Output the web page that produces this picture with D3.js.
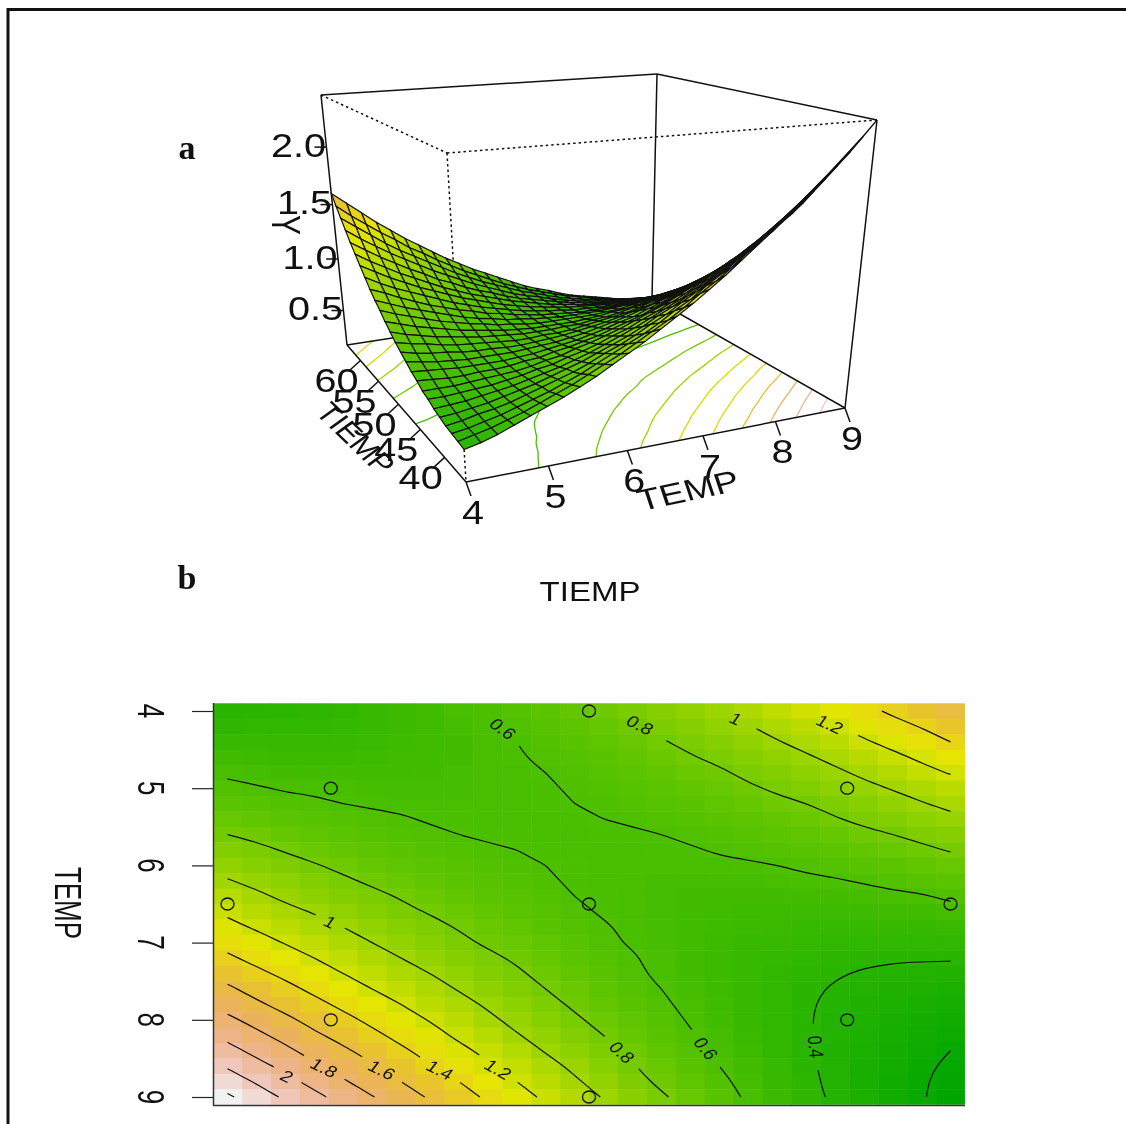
<!DOCTYPE html>
<html>
<head>
<meta charset="utf-8">
<script src="https://cdn.jsdelivr.net/npm/d3@7"></script>
<style>
    html, body { margin: 0; padding: 0; background: #fff; }
    svg { display: block; filter: blur(0.4px); }
    text { font-family: "Liberation Sans", Arial, sans-serif; fill: #111; }
</style>
</head>
<body>
<div id="chart"></div>
<script>
// TEMP on the rows, TIEMP on the columns
var tempGrid = [4, 4.2, 4.4, 4.6, 4.8, 5, 5.2, 5.4, 5.6, 5.8, 6, 6.2, 6.4, 6.6, 6.8, 7, 7.2, 7.4, 7.6, 7.8, 8, 8.2, 8.4, 8.6, 8.8, 9];
var tiempGrid = [36, 37.12, 38.24, 39.36, 40.48, 41.6, 42.72, 43.84, 44.96, 46.08, 47.2, 48.32, 49.44, 50.56, 51.68, 52.8, 53.92, 55.04, 56.16, 57.28, 58.4, 59.52, 60.64, 61.76, 62.88, 64];

// Y per cell, estimated from where the contours cross the plot and the cell colours
var yValues = [
    [.41, .42, .43, .44, .46, .48, .51, .53, .57, .60, .64, .68, .72, .77, .82, .88, .93, .99, 1.06, 1.13, 1.20, 1.27, 1.35, 1.43, 1.51, 1.60],
    [.44, .45, .45, .46, .47, .49, .51, .53, .56, .59, .62, .65, .69, .73, .78, .83, .88, .94, .99, 1.06, 1.12, 1.19, 1.26, 1.34, 1.41, 1.50],
    [.48, .48, .48, .49, .49, .50, .52, .53, .55, .58, .60, .63, .67, .70, .74, .79, .83, .88, .93, .99, 1.05, 1.11, 1.18, 1.25, 1.32, 1.40],
    [.53, .52, .51, .51, .51, .52, .53, .54, .55, .57, .59, .62, .64, .67, .71, .75, .79, .83, .88, .93, .98, 1.04, 1.10, 1.16, 1.23, 1.30],
    [.58, .56, .55, .54, .54, .54, .54, .55, .56, .57, .58, .60, .62, .65, .68, .71, .75, .78, .83, .87, .92, .97, 1.03, 1.08, 1.15, 1.21],
    [.63, .61, .59, .58, .57, .56, .56, .56, .56, .57, .58, .59, .61, .63, .65, .68, .71, .74, .78, .82, .86, .91, .96, 1.01, 1.06, 1.12],
    [.68, .66, .63, .62, .60, .59, .58, .57, .57, .57, .58, .59, .60, .61, .63, .65, .67, .70, .73, .77, .80, .84, .89, .94, .99, 1.04],
    [.74, .71, .68, .66, .64, .62, .61, .59, .59, .58, .58, .58, .59, .60, .61, .63, .64, .67, .69, .72, .75, .79, .83, .87, .91, .96],
    [.80, .77, .73, .70, .68, .65, .63, .62, .60, .59, .59, .58, .58, .59, .59, .60, .62, .63, .65, .68, .70, .73, .77, .80, .84, .88],
    [.87, .83, .79, .75, .72, .69, .67, .64, .63, .61, .60, .59, .58, .58, .58, .59, .59, .61, .62, .64, .66, .68, .71, .74, .77, .81],
    [.94, .89, .85, .81, .77, .73, .70, .68, .65, .63, .61, .60, .59, .58, .57, .57, .58, .58, .59, .60, .62, .64, .66, .68, .71, .74],
    [1.01, .96, .91, .86, .82, .78, .74, .71, .68, .65, .63, .61, .59, .58, .57, .56, .56, .56, .56, .57, .58, .59, .61, .63, .65, .68],
    [1.09, 1.03, .97, .92, .87, .83, .79, .75, .71, .68, .65, .63, .60, .59, .57, .56, .55, .54, .54, .54, .55, .55, .56, .58, .59, .62],
    [1.17, 1.10, 1.04, .99, .93, .88, .83, .79, .75, .71, .68, .65, .62, .59, .57, .56, .54, .53, .52, .52, .52, .52, .52, .53, .54, .56],
    [1.25, 1.18, 1.12, 1.05, 1.00, .94, .89, .84, .79, .75, .71, .67, .64, .61, .58, .56, .54, .52, .51, .50, .49, .49, .49, .49, .49, .50],
    [1.34, 1.27, 1.19, 1.13, 1.06, 1.00, .94, .89, .83, .78, .74, .70, .66, .62, .59, .56, .54, .51, .49, .48, .47, .46, .45, .45, .45, .45],
    [1.43, 1.35, 1.28, 1.20, 1.13, 1.06, 1.00, .94, .88, .83, .78, .73, .68, .64, .61, .57, .54, .51, .49, .47, .45, .43, .42, .41, .41, .41],
    [1.53, 1.44, 1.36, 1.28, 1.20, 1.13, 1.06, 1.00, .93, .87, .82, .76, .71, .67, .62, .58, .55, .51, .48, .46, .43, .41, .39, .38, .37, .36],
    [1.63, 1.54, 1.45, 1.36, 1.28, 1.20, 1.13, 1.06, .99, .92, .86, .80, .75, .69, .64, .60, .56, .52, .48, .45, .42, .39, .37, .35, .34, .32],
    [1.73, 1.63, 1.54, 1.45, 1.36, 1.28, 1.20, 1.12, 1.05, .98, .91, .84, .78, .72, .67, .62, .57, .53, .49, .45, .41, .38, .35, .33, .31, .29],
    [1.84, 1.74, 1.64, 1.54, 1.45, 1.36, 1.27, 1.19, 1.11, 1.03, .96, .89, .82, .76, .70, .64, .59, .54, .49, .45, .41, .37, .34, .31, .28, .26],
    [1.95, 1.84, 1.74, 1.63, 1.54, 1.44, 1.35, 1.26, 1.17, 1.09, 1.01, .94, .87, .80, .73, .67, .61, .56, .50, .45, .41, .37, .33, .29, .26, .23],
    [2.06, 1.95, 1.84, 1.73, 1.63, 1.53, 1.43, 1.34, 1.24, 1.16, 1.07, .99, .91, .84, .77, .70, .64, .58, .52, .46, .41, .36, .32, .28, .24, .20],
    [2.18, 2.06, 1.95, 1.83, 1.72, 1.62, 1.51, 1.41, 1.32, 1.22, 1.14, 1.05, .97, .89, .81, .74, .67, .60, .54, .48, .42, .37, .31, .27, .22, .18],
    [2.30, 2.18, 2.06, 1.94, 1.82, 1.71, 1.60, 1.50, 1.40, 1.30, 1.20, 1.11, 1.02, .94, .85, .77, .70, .63, .56, .49, .43, .37, .31, .26, .21, .17],
    [2.43, 2.30, 2.17, 2.05, 1.93, 1.81, 1.69, 1.58, 1.48, 1.37, 1.27, 1.17, 1.08, .99, .90, .82, .74, .66, .58, .51, .44, .38, .32, .26, .21, .15]
];

var contourLevels = [.2, .4, .6, .8, 1, 1.2, 1.4, 1.6, 1.8, 2, 2.2, 2.4];

var labelText = ["0.6", "0.8", "1", "1.2", "1", "1.2", "1.4", "1.6", "1.8", "2", "0.8", "0.6", "0.4"];
var labelTiemp = [46.67, 51.98, 55.69, 59.33, 39.97, 46.48, 44.23, 41.98, 39.74, 38.3, 51.28, 54.53, 58.79];
var labelTemp = [4.23, 4.18, 4.1, 4.17, 6.73, 8.64, 8.65, 8.65, 8.62, 8.73, 8.42, 8.37, 8.35];
var labelAngle = [36, 26, 24, 24, 24, 30, 26, 26, 26, 26, 42, 50, 84];

var designTiemp = [50, 40, 60, 36, 50, 64, 40, 60, 50];
var designTemp = [4, 5, 5, 6.5, 6.5, 6.5, 8, 8, 9];

var tempTicks = [4, 5, 6, 7, 8, 9];
var tiempTicks = [40, 45, 50, 55, 60];
var yTicks = [0.5, 1, 1.5, 2];
var terrainLow = ["#00A600", "#2DB600", "#63C600", "#A0D600", "#E6E600"];
var terrainHigh = ["#E8C32E", "#EBB25E", "#EDB48E", "#F0C9C0", "#F2F2F2"];

var width = 1126, height = 1124;

var svg = d3.select("#chart").append("svg")
    .attr("width", width)
    .attr("height", height);

var yMin = d3.min(yValues.flat()), yMax = d3.max(yValues.flat());
var yMid = (yMin + yMax) / 2;

// yellow sits at the middle of the range, as in terrain.colors
var color = d3.scaleLinear()
    .domain(terrainLow.map(function (c, i) { return yMin + (yMid - yMin) * i / 4; })
        .concat(terrainHigh.map(function (c, i) { return yMid + (yMax - yMid) * (i + 1) / 5; })))
    .range(terrainLow.concat(terrainHigh));

// the picture is wider than it is tall, so the text gets a horizontal stretch;
// angle is the one seen on screen
function label(g, x, y, angle, size, stretch, str) {
    var a = Math.atan2(Math.sin(angle * Math.PI / 180) * stretch, Math.cos(angle * Math.PI / 180)) * 180 / Math.PI;
    return g.append("text")
        .attr("transform", "translate(" + x + "," + y + ") scale(" + stretch + ",1) rotate(" + a + ")")
        .attr("text-anchor", "middle")
        .attr("dy", ".36em")
        .style("font-size", size + "px")
        .text(str);
}

// figure frame, cut off by the right and bottom of the page
svg.append("path")
    .attr("d", "M8,1124V9.5H1126")
    .attr("fill", "none")
    .attr("stroke", "#111")
    .attr("stroke-width", 3);

svg.append("text")
    .attr("x", 187).attr("y", 159)
    .attr("text-anchor", "middle")
    .style("font-family", "'Liberation Serif', serif")
    .style("font-weight", "bold")
    .style("font-size", "34px")
    .text("a");
svg.append("text")
    .attr("x", 187).attr("y", 589)
    .attr("text-anchor", "middle")
    .style("font-family", "'Liberation Serif', serif")
    .style("font-weight", "bold")
    .style("font-size", "34px")
    .text("b");

// contour lines, without the parts that d3 adds along the edge of the grid
var nRows = tempGrid.length, nCols = tiempGrid.length;
var colToTiemp = d3.scaleLinear().domain([0, nCols - 1]).range([tiempGrid[0], tiempGrid[nCols - 1]]);
var rowToTemp = d3.scaleLinear().domain([0, nRows - 1]).range([tempGrid[0], tempGrid[nRows - 1]]);

var contourLines = d3.contours()
    .size([nCols, nRows])
    .thresholds(contourLevels)(yValues.flat())
    .map(function (c) {
        var lines = [];
        c.coordinates.forEach(function (polygon) {
            polygon.forEach(function (ring) {
                var cur = [];
                ring.forEach(function (p) {
                    if (p[0] <= 0 || p[0] >= nCols || p[1] <= 0 || p[1] >= nRows) {
                        if (cur.length > 1) lines.push(cur);
                        cur = [];
                    } else {
                        cur.push([colToTiemp(p[0] - 0.5), rowToTemp(p[1] - 0.5)]);
                    }
                });
                if (cur.length > 1) lines.push(cur);
            });
        });
        return { level: c.value, lines: lines };
    });

// --------------------------
//
// a: perspective plot
//
// --------------------------
var tempNorm = d3.scaleLinear().domain([tempGrid[0], tempGrid[nRows - 1]]).range([0, 1]);
var tiempNorm = d3.scaleLinear().domain([tiempGrid[0], tiempGrid[nCols - 1]]).range([0, 1]);
var yNorm = d3.scaleLinear().domain([yMin, yMax]).range([0, 1]);

var origin = [466, 482], xEnd = [845, 408], yEnd = [347, 345], zEnd = [447, 153];
var wx = 1.112, wy = 1.313, wz = 0.85;

function rawProject(x, y, z) {
    var w = 1 + x * (wx - 1) + y * (wy - 1) + z * (wz - 1);
    return [0, 1].map(function (k) {
        return (origin[k] + x * (wx * xEnd[k] - origin[k]) + y * (wy * yEnd[k] - origin[k]) + z * (wz * zEnd[k] - origin[k])) / w;
    }).concat(w);
}

var cornerFix = [
    [1, 1, 0, 652, 298],
    [0, 1, 1, 321, 95],
    [1, 0, 1, 877, 120],
    [1, 1, 1, 657, 74]
].map(function (c) {
    var p = rawProject(c[0], c[1], c[2]);
    return [c[0], c[1], c[2], c[3] - p[0], c[4] - p[1]];
});

function project(x, y, z) {
    var p = rawProject(x, y, z);
    cornerFix.forEach(function (c) {
        var b = (c[0] ? x : 1 - x) * (c[1] ? y : 1 - y) * (c[2] ? z : 1 - z);
        p[0] += b * c[3];
        p[1] += b * c[4];
    });
    return p;
}

var persp = svg.append("g");
var line = d3.line();
var smooth = d3.line().curve(d3.curveBasis);

// floor contours
contourLines.forEach(function (c) {
    c.lines.forEach(function (l) {
        persp.append("path")
            .attr("d", smooth(l.map(function (p) { return project(tempNorm(p[1]), tiempNorm(p[0]), 0).slice(0, 2); })))
            .attr("fill", "none")
            .attr("stroke", color(c.level))
            .attr("stroke-width", 1.3);
    });
});

// box
var boxSolid = [
    [[0, 1, 1], [1, 1, 1]], [[1, 1, 1], [1, 0, 1]], [[1, 1, 1], [1, 1, 0]],
    [[0, 1, 1], [0, 1, 0]], [[1, 0, 1], [1, 0, 0]],
    [[0, 1, 0], [1, 1, 0]], [[1, 1, 0], [1, 0, 0]],
    [[0, 1, 0], [0, 0, 0]], [[0, 0, 0], [1, 0, 0]]
];
var boxDotted = [
    [[0, 1, 1], [0, 0, 1]], [[0, 0, 1], [1, 0, 1]], [[0, 0, 1], [0, 0, 0]]
];
function boxEdge(e, dash) {
    persp.append("path")
        .attr("d", line(e.map(function (v) { return project(v[0], v[1], v[2]).slice(0, 2); })))
        .attr("stroke", "#111")
        .attr("stroke-width", 1.5)
        .attr("stroke-dasharray", dash);
}
boxSolid.forEach(function (e) { boxEdge(e, null); });
boxDotted.forEach(function (e) { boxEdge(e, "2.5,3"); });

// surface, far facets first
var facets = [];
d3.range(nRows - 1).forEach(function (i) {
    d3.range(nCols - 1).forEach(function (j) {
        var cells = [[i, j], [i + 1, j], [i + 1, j + 1], [i, j + 1]];
        var pts = cells.map(function (c) {
            return project(tempNorm(tempGrid[c[0]]), tiempNorm(tiempGrid[c[1]]), yNorm(yValues[c[0]][c[1]]));
        });
        facets.push({
            pts: pts,
            depth: d3.mean(pts, function (p) { return p[2]; }),
            value: d3.mean(cells, function (c) { return yValues[c[0]][c[1]]; })
        });
    });
});
facets.sort(function (a, b) { return d3.descending(a.depth, b.depth); });

persp.append("g").selectAll("path")
    .data(facets)
    .enter().append("path")
    .attr("d", function (d) { return line(d.pts.map(function (p) { return p.slice(0, 2); })) + "Z"; })
    .attr("fill", function (d) { return color(d.value); })
    .attr("stroke", "#111")
    .attr("stroke-width", 1.2);

// ticks and their labels
function tick(p, dx, dy) {
    persp.append("line")
        .attr("x1", p[0]).attr("y1", p[1])
        .attr("x2", p[0] + dx).attr("y2", p[1] + dy)
        .attr("stroke", "#111")
        .attr("stroke-width", 1.5);
}
tempTicks.forEach(function (t) {
    var p = project(tempNorm(t), 0, 0);
    tick(p, 5, 14);
    label(persp, p[0] + 7, p[1] + 30, 0, 33, 1.2, t);
});
tiempTicks.forEach(function (t) {
    var p = project(0, tiempNorm(t), 0);
    tick(p, -12, 11);
    label(persp, p[0] - 24, p[1] + 20, 0, 33, 1.2, t);
});
yTicks.forEach(function (t) {
    var p = project(0, 1, yNorm(t));
    tick(p, -12, 0);
    label(persp, p[0] - 28, p[1] - 2, 0, 33, 1.2, d3.format(".1f")(t));
});
label(persp, 688, 490, -12, 30, 1.25, "TEMP");
label(persp, 356, 438, 44, 27.5, 1.2, "TIEMP");
label(persp, 287, 225, 90, 30, 1.35, "Y");

// --------------------------
//
// b: image with contours
//
// --------------------------
var xScale = d3.scaleLinear().domain([tiempGrid[0], tiempGrid[nCols - 1]]).range([227.5, 950.5]);
var yScale = d3.scaleLinear().domain([tempGrid[0], tempGrid[nRows - 1]]).range([711, 1097]);
var cellW = xScale(tiempGrid[1]) - xScale(tiempGrid[0]);
var cellH = yScale(tempGrid[1]) - yScale(tempGrid[0]);

var image = svg.append("g");
yValues.forEach(function (row, i) {
    image.append("g").selectAll("rect")
        .data(row)
        .enter().append("rect")
        .attr("x", function (d, j) { return xScale(tiempGrid[j]) - cellW / 2; })
        .attr("y", yScale(tempGrid[i]) - cellH / 2)
        .attr("width", function (d, j) { return cellW + (j < nCols - 1 ? 0.5 : 0); })
        .attr("height", cellH + (i < nRows - 1 ? 0.5 : 0))
        .attr("fill", function (d) { return color(d); });
});

// gaps in the lines where the labels sit
var mask = svg.append("mask")
    .attr("id", "label-gaps")
    .attr("maskUnits", "userSpaceOnUse")
    .attr("x", 0).attr("y", 0)
    .attr("width", width).attr("height", height);
mask.append("rect").attr("width", width).attr("height", height).attr("fill", "#fff");
labelText.forEach(function (t, i) {
    var w = t.length > 1 ? 47 : 32;
    if (labelTemp[i] < 4.2) w += 14; // close to the top, no stub above the label
    mask.append("rect")
        .attr("x", -w / 2).attr("y", -9)
        .attr("width", w).attr("height", 18)
        .attr("fill", "#000")
        .attr("transform", "translate(" + xScale(labelTiemp[i]) + "," + yScale(labelTemp[i]) + ") rotate(" + labelAngle[i] + ")");
});

var lines2d = d3.line()
    .curve(d3.curveBasis)
    .x(function (p) { return xScale(p[0]); })
    .y(function (p) { return yScale(p[1]); });
var contourG = svg.append("g").attr("mask", "url(#label-gaps)");
contourLines.forEach(function (c) {
    c.lines.forEach(function (l) {
        contourG.append("path")
            .attr("d", lines2d(l))
            .attr("fill", "none")
            .attr("stroke", "#111")
            .attr("stroke-width", 1.2);
    });
});
labelText.forEach(function (t, i) {
    label(svg, xScale(labelTiemp[i]), yScale(labelTemp[i]), labelAngle[i], 16, 1.25, t);
});

svg.append("g").selectAll("ellipse")
    .data(designTiemp)
    .enter().append("ellipse")
    .attr("cx", function (d) { return xScale(d); })
    .attr("cy", function (d, i) { return yScale(designTemp[i]); })
    .attr("rx", 6.5)
    .attr("ry", 6)
    .attr("fill", "none")
    .attr("stroke", "#111")
    .attr("stroke-width", 1.3);

// left axis, its labels read downwards
var yAxis = d3.axisLeft(yScale).tickValues(tempTicks).tickSize(21).tickFormat("");
var yAxisG = svg.append("g").attr("transform", "translate(213,0)").call(yAxis);
yAxisG.select(".domain").remove();
yAxisG.selectAll("line").attr("stroke", "#222").attr("stroke-width", 1.2);
tempTicks.forEach(function (t) {
    label(svg, 152, yScale(t), 90, 26, 1.45, t);
});
label(svg, 69, 903, 90, 26, 1.45, "TEMP");
label(svg, 590, 591, 0, 28, 1.18, "TIEMP");

svg.append("path")
    .attr("d", "M213.5,703V1105.5H965")
    .attr("fill", "none")
    .attr("stroke", "#333")
    .attr("stroke-width", 1.5);
</script>
</body>
</html>
